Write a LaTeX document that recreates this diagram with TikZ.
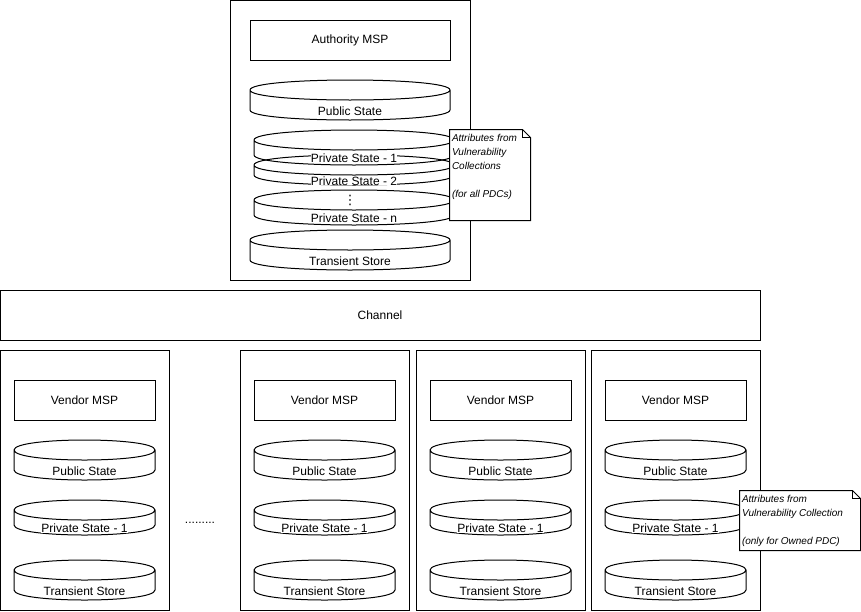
\documentclass[tikz,border=0pt]{standalone}
\usepackage{fontspec}
\setmainfont{Liberation Sans}
\newfontfamily\dotsfont{DejaVu Sans}

\begin{document}
\begin{tikzpicture}[x=1pt,y=-1pt,line width=1pt,font=\fontsize{12}{14}\selectfont,
		box node/.style={rectangle,draw,inner sep=0pt},
		msp node/.style={rectangle,draw,fill=white,minimum height=40pt,inner sep=0pt},
		db text/.style={inner sep=0pt,fill=white},
		db node/.style={rectangle,inner sep=0pt,outer sep=0pt,minimum height=40pt,
		  append after command={\pgfextra{%
		    \draw ([yshift=-10pt]\tikzlastnode.north west)
		      .. controls ([yshift=3.33pt]\tikzlastnode.north west) and ([yshift=3.33pt]\tikzlastnode.north east) .. ([yshift=-10pt]\tikzlastnode.north east)
		      -- ([yshift=10pt]\tikzlastnode.south east)
		      .. controls ([yshift=-3.33pt]\tikzlastnode.south east) and ([yshift=-3.33pt]\tikzlastnode.south west) .. ([yshift=10pt]\tikzlastnode.south west)
		      -- cycle
		      ([yshift=-10pt]\tikzlastnode.north west)
		      .. controls ([yshift=-23.33pt]\tikzlastnode.north west) and ([yshift=-23.33pt]\tikzlastnode.north east) .. ([yshift=-10pt]\tikzlastnode.north east);
		    \node[db text] (\tikzlastnode-text) at ([yshift=-11pt]\tikzlastnode.center) {#1};}}},
		note node/.style={rectangle,inner sep=0pt},
		note text/.style={anchor=north west,align=left,inner xsep=2pt,inner ysep=4pt,
		                  font=\itshape\fontsize{10}{14}\selectfont}]
	\useasboundingbox (0,0) rectangle (861,611);

	% Authority
	\node[box node,minimum width=240pt,minimum height=280pt] (authority) at (350,140) {};
	\node[msp node,minimum width=200pt] (amsp) at (350,40) {Authority MSP};
	\node[db node=Public State,minimum width=200pt] (apublic) at (350,100) {};
	\node[db node=Private State - n,minimum width=200pt,minimum height=35pt] (aprivn) at (354,207.5) {};
	\node[db node=Private State - 2,minimum width=200pt,minimum height=30pt] (apriv2) at (354,170) {};
	\node[db node=Private State - 1,minimum width=200pt,minimum height=35pt] (apriv1) at (354,147.5) {};
	\node[inner sep=0pt] (avdots) at (350,200.5) {\dotsfont\fontsize{13}{13}\selectfont ⋮};
	\node[db node=Transient Store,minimum width=200pt] (atransient) at (350,250) {};

	% Note for all PDCs
	\node[note node,minimum width=80pt,minimum height=90pt] (anote) at (490,175) {};
	\draw[fill=white] (anote.north west) -- ([xshift=-8pt]anote.north east) -- ([yshift=-8pt]anote.north east)
		-- (anote.south east) -- (anote.south west) -- cycle;
	\draw ([xshift=-8pt]anote.north east) -- ([xshift=-8pt,yshift=-8pt]anote.north east) -- ([yshift=-8pt]anote.north east);
	\node[note text] (anotetext) at (anote.north west) {Attributes from\\ Vulnerability\\ Collections\\[14pt] (for all PDCs)};

	% Channel
	\node[box node,minimum width=760pt,minimum height=50pt] (channel) at (380,315) {Channel};

	% Vendors
	\foreach \vx/\vn in {84.5/1,324.5/2,500.5/3,675.5/4}{
		\node[box node,minimum width=169pt,minimum height=260pt] (vendor\vn) at (\vx,480) {};
		\node[msp node,minimum width=141pt] (vmsp\vn) at (\vx,400) {Vendor MSP};
		\node[db node=Public State,minimum width=141pt] (vpublic\vn) at (\vx,460) {};
		\node[db node=Private State - 1,minimum width=141pt,minimum height=35pt] (vpriv\vn) at (\vx,517.5) {};
		\node[db node=Transient Store,minimum width=141pt] (vtransient\vn) at (\vx,580) {};
	}
	\node[inner sep=0pt] (vhdots) at (200,522.5) {.........};

	% Note for owned PDC
	\node[note node,minimum width=120pt,minimum height=59pt] (vnote) at (800,520.5) {};
	\draw[fill=white] (vnote.north west) -- ([xshift=-8pt]vnote.north east) -- ([yshift=-8pt]vnote.north east)
		-- (vnote.south east) -- (vnote.south west) -- cycle;
	\draw ([xshift=-8pt]vnote.north east) -- ([xshift=-8pt,yshift=-8pt]vnote.north east) -- ([yshift=-8pt]vnote.north east);
	\node[note text] (vnotetext) at (vnote.north west) {Attributes from\\ Vulnerability Collection\\[14pt] (only for Owned PDC)};
\end{tikzpicture}
\end{document}
